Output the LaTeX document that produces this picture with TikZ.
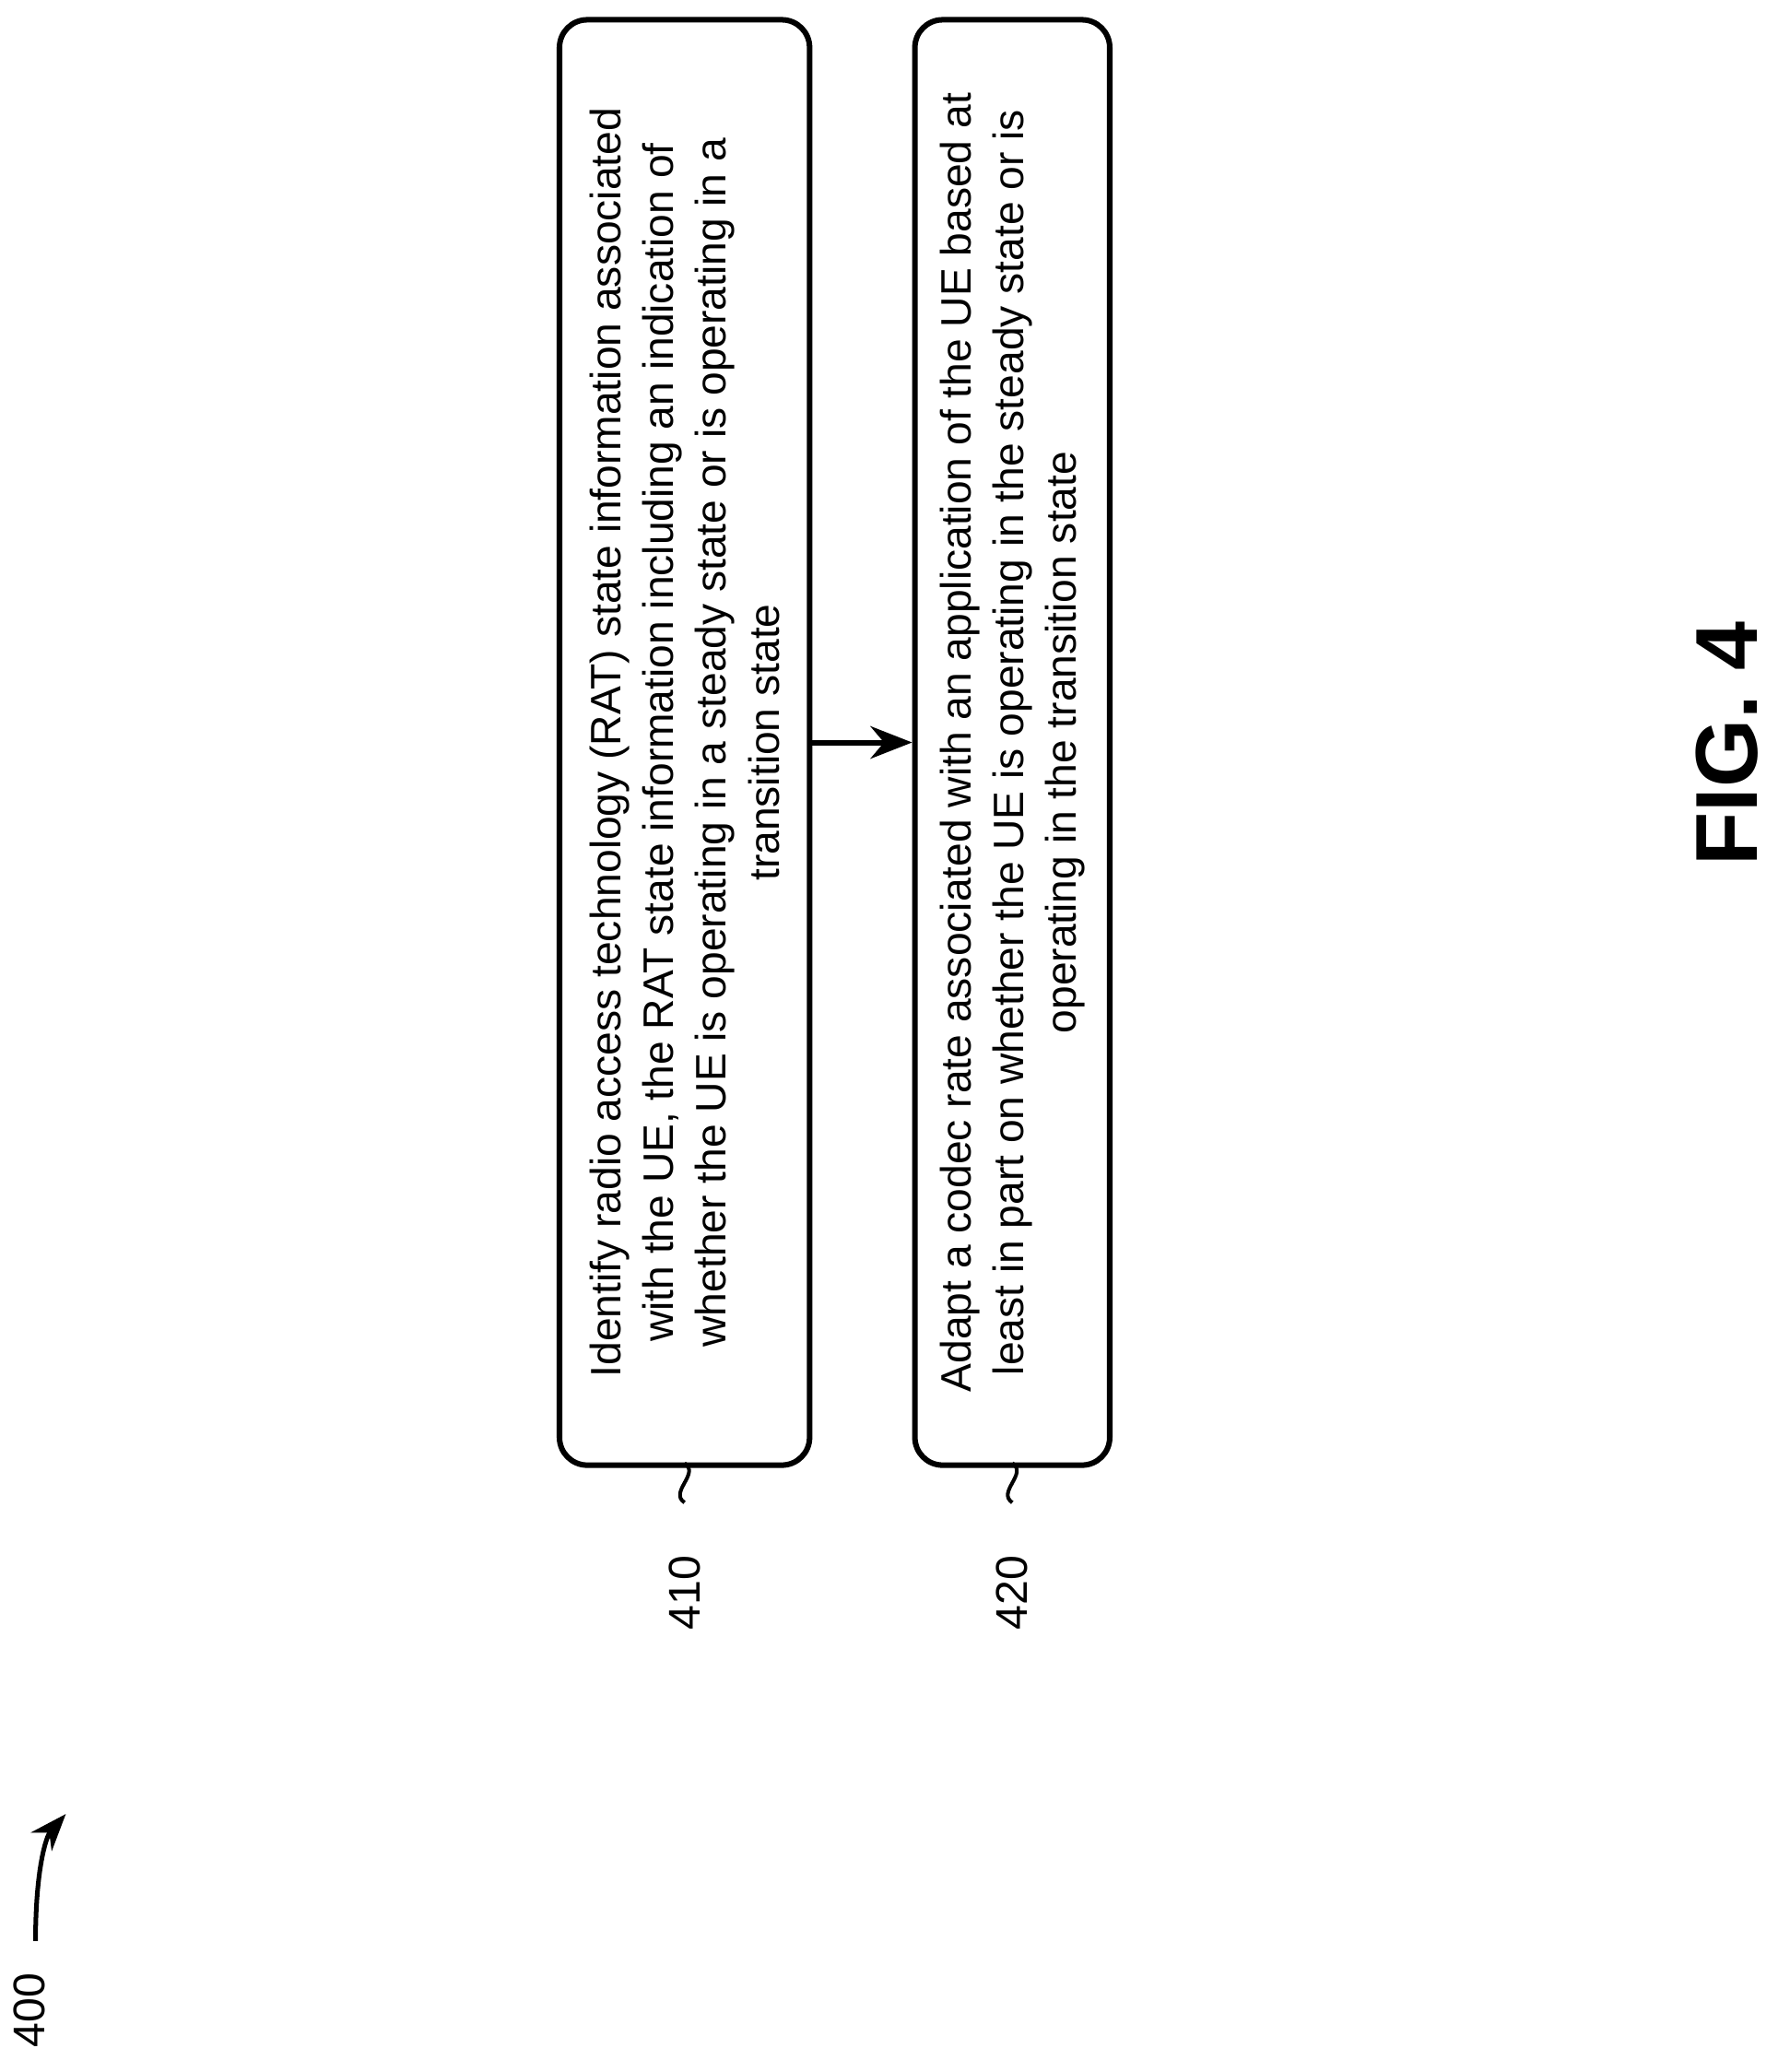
\documentclass[tikz,border=0pt]{standalone}
\usepackage{fontspec}
\setmainfont{Liberation Sans}
\usetikzlibrary{arrows.meta}
\begin{document}
\begin{tikzpicture}[x=0.1mm,y=-0.1mm,
  stepbox/.style={draw,line width=1.2pt,rounded corners=6pt,rotate=90,align=center,
    minimum width=109.8mm,font=\fontsize{9.2pt}{11.4pt}\selectfont,inner sep=0pt},
  reflabel/.style={rotate=90,font=\fontsize{9.6pt}{11.6pt}\selectfont},
  wave/.style={line width=0.8pt}]
  \useasboundingbox (0,0) rectangle (1350,1574);
  \node[stepbox,minimum height=19mm] (s410) at (520,564) {Identify radio access technology (RAT) state information associated\\ with the UE, the RAT state information including an indication of\\ whether the UE is operating in a steady state or is operating in a\\ transition state};
  \node[stepbox,minimum height=14.8mm] (s420) at (769,564) {Adapt a codec rate associated with an application of the UE based at\\ least in part on whether the UE is operating in the steady state or is\\ operating in the transition state};
  \draw[line width=1.2pt,-{Stealth[length=9pt,width=7pt]}] (s410.south) -- (s420.north);
  % reference labels
  \node[reflabel] (l410) at (520,1210) {410};
  \node[reflabel] (l420) at (769,1210) {420};
  \draw[wave] (l410.east) ++(0,-28) coordinate (w1) .. controls ++(-12,-8) and ++(12,8) .. ++(0,-30);
  \draw[wave] (l420.east) ++(0,-28) coordinate (w2) .. controls ++(-12,-8) and ++(12,8) .. ++(0,-30);
  \node[reflabel] (l400) at (22,1527) {400};
  \coordinate (a400) at (50,1378);
  \draw[line width=1pt,-{Stealth[length=8pt,width=6pt]}] (l400.east) ++(5,-12) .. controls (27,1420) and (35,1395) .. (a400);
  \node[rotate=90,font=\bfseries\fontsize{19pt}{22pt}\selectfont] (fig) at (1312,565) {FIG. 4};
\end{tikzpicture}
\end{document}
